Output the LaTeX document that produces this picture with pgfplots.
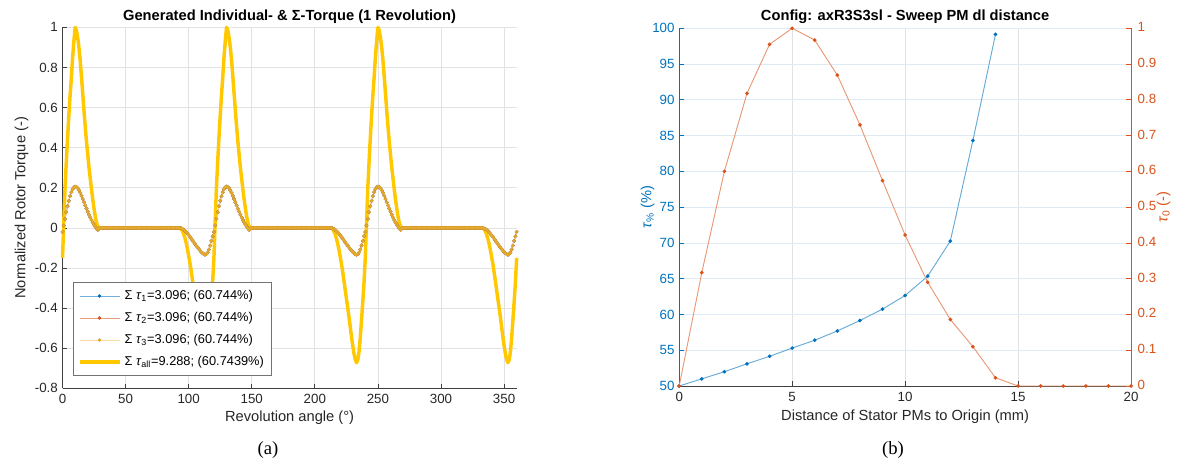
\documentclass[border=0pt]{standalone}
\usepackage{fontspec}
\setmainfont{Liberation Sans}
\newfontfamily\capfont{Liberation Serif}
\usepackage{pgfplots}
\usepackage{pgfplotstable}
\pgfplotsset{compat=1.18}

\definecolor{mblue}{RGB}{0,114,189}
\definecolor{morange}{RGB}{217,83,25}
\definecolor{myellow}{RGB}{237,177,32}
\definecolor{mgold}{RGB}{226,170,45}
\definecolor{allyellow}{RGB}{255,200,0}
\definecolor{axgray}{RGB}{64,64,64}
\definecolor{gridgray}{RGB}{226,226,226}
\definecolor{gridblue}{RGB}{222,234,245}

\pgfplotstableread[row sep=\\]{
th ind all\\
0 -0.02 -0.15\\ 1 0.012 0.03\\ 2 0.045 0.20\\ 3 0.078 0.33\\ 4 0.108 0.45\\ 5 0.135 0.56\\ 6 0.158 0.66\\ 7 0.178 0.75\\ 8 0.193 0.85\\ 9 0.202 0.93\\
10 0.206 1.0\\ 11 0.204 0.985\\ 12 0.198 0.95\\ 13 0.188 0.90\\ 14 0.175 0.835\\ 15 0.160 0.755\\ 16 0.144 0.67\\ 17 0.128 0.585\\ 18 0.112 0.505\\ 19 0.096 0.43\\
20 0.081 0.365\\ 21 0.066 0.30\\ 22 0.052 0.245\\ 23 0.039 0.19\\ 24 0.027 0.14\\ 25 0.016 0.095\\ 26 0.006 0.055\\ 27 -0.003 0.025\\ 28 -0.01 0.007\\ 29 -0.004 0\\
30 0 0\\ 31 0 0\\ 32 0 0\\ 33 0 0\\ 34 0 0\\ 35 0 0\\ 36 0 0\\ 37 0 0\\ 38 0 0\\ 39 0 0\\
40 0 0\\ 41 0 0\\ 42 0 0\\ 43 0 0\\ 44 0 0\\ 45 0 0\\ 46 0 0\\ 47 0 0\\ 48 0 0\\ 49 0 0\\
50 0 0\\ 51 0 0\\ 52 0 0\\ 53 0 0\\ 54 0 0\\ 55 0 0\\ 56 0 0\\ 57 0 0\\ 58 0 0\\ 59 0 0\\
60 0 0\\ 61 0 0\\ 62 0 0\\ 63 0 0\\ 64 0 0\\ 65 0 0\\ 66 0 0\\ 67 0 0\\ 68 0 0\\ 69 0 0\\
70 0 0\\ 71 0 0\\ 72 0 0\\ 73 0 0\\ 74 0 0\\ 75 0 0\\ 76 0 0\\ 77 0 0\\ 78 0 0\\ 79 0 0\\
80 0 0\\ 81 0 0\\ 82 0 0\\ 83 0 0\\ 84 0 0\\ 85 0 0\\ 86 0 0\\ 87 0 0\\ 88 0 0\\ 89 0 0\\
90 0 0\\ 91 0 0\\ 92 0 0\\ 93 0 0\\ 94 -0.002 -0.005\\ 95 -0.005 -0.015\\ 96 -0.009 -0.03\\ 97 -0.014 -0.05\\ 98 -0.021 -0.075\\ 99 -0.028 -0.105\\
100 -0.036 -0.14\\ 101 -0.044 -0.175\\ 102 -0.053 -0.215\\ 103 -0.062 -0.26\\ 104 -0.071 -0.305\\ 105 -0.080 -0.35\\ 106 -0.089 -0.395\\ 107 -0.097 -0.44\\ 108 -0.105 -0.49\\ 109 -0.113 -0.54\\
110 -0.120 -0.585\\ 111 -0.126 -0.625\\ 112 -0.131 -0.655\\ 113 -0.134 -0.672\\ 114 -0.131 -0.66\\ 115 -0.123 -0.62\\ 116 -0.108 -0.55\\ 117 -0.088 -0.46\\ 118 -0.065 -0.37\\ 119 -0.042 -0.27\\
120 -0.02 -0.15\\ 121 0.012 0.03\\ 122 0.045 0.20\\ 123 0.078 0.33\\ 124 0.108 0.45\\ 125 0.135 0.56\\ 126 0.158 0.66\\ 127 0.178 0.75\\ 128 0.193 0.85\\ 129 0.202 0.93\\
130 0.206 1.0\\ 131 0.204 0.985\\ 132 0.198 0.95\\ 133 0.188 0.90\\ 134 0.175 0.835\\ 135 0.160 0.755\\ 136 0.144 0.67\\ 137 0.128 0.585\\ 138 0.112 0.505\\ 139 0.096 0.43\\
140 0.081 0.365\\ 141 0.066 0.30\\ 142 0.052 0.245\\ 143 0.039 0.19\\ 144 0.027 0.14\\ 145 0.016 0.095\\ 146 0.006 0.055\\ 147 -0.003 0.025\\ 148 -0.01 0.007\\ 149 -0.004 0\\
150 0 0\\ 151 0 0\\ 152 0 0\\ 153 0 0\\ 154 0 0\\ 155 0 0\\ 156 0 0\\ 157 0 0\\ 158 0 0\\ 159 0 0\\
160 0 0\\ 161 0 0\\ 162 0 0\\ 163 0 0\\ 164 0 0\\ 165 0 0\\ 166 0 0\\ 167 0 0\\ 168 0 0\\ 169 0 0\\
170 0 0\\ 171 0 0\\ 172 0 0\\ 173 0 0\\ 174 0 0\\ 175 0 0\\ 176 0 0\\ 177 0 0\\ 178 0 0\\ 179 0 0\\
180 0 0\\ 181 0 0\\ 182 0 0\\ 183 0 0\\ 184 0 0\\ 185 0 0\\ 186 0 0\\ 187 0 0\\ 188 0 0\\ 189 0 0\\
190 0 0\\ 191 0 0\\ 192 0 0\\ 193 0 0\\ 194 0 0\\ 195 0 0\\ 196 0 0\\ 197 0 0\\ 198 0 0\\ 199 0 0\\
200 0 0\\ 201 0 0\\ 202 0 0\\ 203 0 0\\ 204 0 0\\ 205 0 0\\ 206 0 0\\ 207 0 0\\ 208 0 0\\ 209 0 0\\
210 0 0\\ 211 0 0\\ 212 0 0\\ 213 0 0\\ 214 -0.002 -0.005\\ 215 -0.005 -0.015\\ 216 -0.009 -0.03\\ 217 -0.014 -0.05\\ 218 -0.021 -0.075\\ 219 -0.028 -0.105\\
220 -0.036 -0.14\\ 221 -0.044 -0.175\\ 222 -0.053 -0.215\\ 223 -0.062 -0.26\\ 224 -0.071 -0.305\\ 225 -0.080 -0.35\\ 226 -0.089 -0.395\\ 227 -0.097 -0.44\\ 228 -0.105 -0.49\\ 229 -0.113 -0.54\\
230 -0.120 -0.585\\ 231 -0.126 -0.625\\ 232 -0.131 -0.655\\ 233 -0.134 -0.672\\ 234 -0.131 -0.66\\ 235 -0.123 -0.62\\ 236 -0.108 -0.55\\ 237 -0.088 -0.46\\ 238 -0.065 -0.37\\ 239 -0.042 -0.27\\
240 -0.02 -0.15\\ 241 0.012 0.03\\ 242 0.045 0.20\\ 243 0.078 0.33\\ 244 0.108 0.45\\ 245 0.135 0.56\\ 246 0.158 0.66\\ 247 0.178 0.75\\ 248 0.193 0.85\\ 249 0.202 0.93\\
250 0.206 1.0\\ 251 0.204 0.985\\ 252 0.198 0.95\\ 253 0.188 0.90\\ 254 0.175 0.835\\ 255 0.160 0.755\\ 256 0.144 0.67\\ 257 0.128 0.585\\ 258 0.112 0.505\\ 259 0.096 0.43\\
260 0.081 0.365\\ 261 0.066 0.30\\ 262 0.052 0.245\\ 263 0.039 0.19\\ 264 0.027 0.14\\ 265 0.016 0.095\\ 266 0.006 0.055\\ 267 -0.003 0.025\\ 268 -0.01 0.007\\ 269 -0.004 0\\
270 0 0\\ 271 0 0\\ 272 0 0\\ 273 0 0\\ 274 0 0\\ 275 0 0\\ 276 0 0\\ 277 0 0\\ 278 0 0\\ 279 0 0\\
280 0 0\\ 281 0 0\\ 282 0 0\\ 283 0 0\\ 284 0 0\\ 285 0 0\\ 286 0 0\\ 287 0 0\\ 288 0 0\\ 289 0 0\\
290 0 0\\ 291 0 0\\ 292 0 0\\ 293 0 0\\ 294 0 0\\ 295 0 0\\ 296 0 0\\ 297 0 0\\ 298 0 0\\ 299 0 0\\
300 0 0\\ 301 0 0\\ 302 0 0\\ 303 0 0\\ 304 0 0\\ 305 0 0\\ 306 0 0\\ 307 0 0\\ 308 0 0\\ 309 0 0\\
310 0 0\\ 311 0 0\\ 312 0 0\\ 313 0 0\\ 314 0 0\\ 315 0 0\\ 316 0 0\\ 317 0 0\\ 318 0 0\\ 319 0 0\\
320 0 0\\ 321 0 0\\ 322 0 0\\ 323 0 0\\ 324 0 0\\ 325 0 0\\ 326 0 0\\ 327 0 0\\ 328 0 0\\ 329 0 0\\
330 0 0\\ 331 0 0\\ 332 0 0\\ 333 0 0\\ 334 -0.002 -0.005\\ 335 -0.005 -0.015\\ 336 -0.009 -0.03\\ 337 -0.014 -0.05\\ 338 -0.021 -0.075\\ 339 -0.028 -0.105\\
340 -0.036 -0.14\\ 341 -0.044 -0.175\\ 342 -0.053 -0.215\\ 343 -0.062 -0.26\\ 344 -0.071 -0.305\\ 345 -0.080 -0.35\\ 346 -0.089 -0.395\\ 347 -0.097 -0.44\\ 348 -0.105 -0.49\\ 349 -0.113 -0.54\\
350 -0.120 -0.585\\ 351 -0.126 -0.625\\ 352 -0.131 -0.655\\ 353 -0.134 -0.672\\ 354 -0.131 -0.66\\ 355 -0.123 -0.62\\ 356 -0.108 -0.55\\ 357 -0.088 -0.46\\ 358 -0.065 -0.37\\ 359 -0.042 -0.27\\
360 -0.02 -0.15\\
}\torque

\pgfplotsset{
 mat/.style={
  scale only axis,
  axis x line*=bottom, axis y line*=left,
  tick align=inside, major tick length=3.5pt,
  axis line style={axgray, line width=0.5pt},
  every tick/.style={axgray, line width=0.5pt},
  tick label style={font=\fontsize{10}{11}\selectfont, text=black!85},
  xticklabel style={yshift=-1.2pt},
  label style={font=\fontsize{11}{13}\selectfont, text=black!85},
  title style={font=\bfseries\fontsize{11}{13}\selectfont, text=black},
  every axis title shift=0pt,
  /pgf/number format/assume math mode=true,
  /pgf/number format/fixed,
 },
}

\begin{document}
\begin{tikzpicture}
\useasboundingbox (0,0) rectangle (890.25pt,348.75pt);

% ---------------- Left plot ----------------
\begin{axis}[mat,
 at={(46.9pt,57.5pt)}, anchor=south west, width=340.6pt, height=270.75pt,
 xmin=0, xmax=360, ymin=-0.8, ymax=1,
 xtick={0,50,100,150,200,250,300,350},
 ytick={-0.8,-0.6,-0.4,-0.2,0,0.2,0.4,0.6,0.8,1},
 xmajorgrids, ymajorgrids, grid style={gridgray, line width=0.5pt},
 title={Generated Individual- \& Σ-Torque (1 Revolution)},
 title style={at={(axis description cs:0.5,1.03)}, anchor=center},
 xlabel={Revolution angle (°)},
 xlabel style={at={(axis description cs:0.5,-0.08)}, anchor=center},
 ylabel={Normalized Rotor Torque (-)},
 ylabel style={at={(axis description cs:-0.09,0.5)}, anchor=center},
 legend style={at={(axis description cs:0.024,0.034)}, anchor=south west,
   draw=black!55, line width=0.5pt, fill=white, font=\fontsize{9.6}{11}\selectfont,
   nodes={text height=7.3pt, text depth=2.6pt, inner ysep=3.3pt, inner xsep=2.5pt}, row sep=0pt},
 legend cell align=left,
 legend image code/.code={\draw[mark repeat=2,mark phase=2,#1] plot coordinates {(0pt,0pt) (15pt,0pt) (30pt,0pt)};},
 clip=false,
]
\addplot[color=mblue!55, line width=0.6pt, mark=*, mark size=1pt, mark options={solid, fill=mblue, draw=mblue}] table[x=th, y=ind] {\torque};
\addlegendentry{Σ \textit{τ}\textsubscript{1}=3.096; (60.744\%)}
\addplot[color=morange!55, line width=0.6pt, mark=*, mark size=1pt, mark options={solid, fill=morange, draw=morange}] table[x=th, y=ind] {\torque};
\addlegendentry{Σ \textit{τ}\textsubscript{2}=3.096; (60.744\%)}
\addplot[color=myellow!45, line width=0.6pt, mark=*, mark size=1pt, mark options={solid, fill=mgold, draw=mgold}] table[x=th, y=ind] {\torque};
\addlegendentry{Σ \textit{τ}\textsubscript{3}=3.096; (60.744\%)}
\addplot[color=allyellow, line width=2.6pt, line join=round] table[x=th, y=all] {\torque};
\addlegendentry{Σ \textit{τ}\textsubscript{all}=9.288; (60.7439\%)}
\end{axis}

% ---------------- Right plot (left y axis) ----------------
\begin{axis}[mat,
 at={(509.4pt,59.25pt)}, anchor=south west, width=338.85pt, height=268.3pt,
 xmin=0, xmax=20, ymin=50, ymax=100,
 xtick={0,5,10,15,20}, ytick={50,55,60,65,70,75,80,85,90,95,100},
 xmajorgrids, ymajorgrids,
 major x grid style={gridgray, line width=0.5pt},
 major y grid style={gridblue, line width=0.5pt},
 y axis line style={mblue}, ytick style={mblue}, yticklabel style={text=mblue},
 title={Config: axR3S3sl - Sweep PM dl distance},
 title style={at={(axis description cs:0.5,1.033)}, anchor=center},
 xlabel={Distance of Stator PMs to Origin (mm)},
 xlabel style={at={(axis description cs:0.5,-0.086)}, anchor=center},
 ylabel={\textit{τ}\textsubscript{\%} (\%)},
 ylabel style={at={(axis description cs:-0.07,0.5)}, anchor=center, text=mblue},
 clip=false,
]
\addplot[color=mblue!60, line width=0.7pt, mark=*, mark size=1pt, mark options={solid, fill=mblue, draw=mblue}] coordinates {
(0,50) (1,51.0) (2,52.0) (3,53.1) (4,54.15) (5,55.3) (6,56.4) (7,57.7) (8,59.15) (9,60.75) (10,62.65) (11,65.35) (12,70.25) (13,84.3) (14,99.15)
};
\end{axis}

% ---------------- Right plot (right y axis) ----------------
\begin{axis}[mat,
 at={(509.4pt,59.25pt)}, anchor=south west, width=338.85pt, height=268.3pt,
 axis x line=none, axis y line*=right,
 xmin=0, xmax=20, ymin=0, ymax=1,
 ytick={0,0.1,0.2,0.3,0.4,0.5,0.6,0.7,0.8,0.9,1},
 y axis line style={morange}, ytick style={morange}, yticklabel style={text=morange, xshift=1.5pt, yshift=0.8pt},
 ylabel={\textit{τ}\textsubscript{0} (-)},
 ylabel style={at={(axis description cs:1.072,0.5)}, anchor=center, text=morange},
 clip=false,
]
\addplot[color=morange!60, line width=0.7pt, mark=*, mark size=1pt, mark options={solid, fill=morange, draw=morange}] coordinates {
(0,0) (1,0.317) (2,0.60) (3,0.818) (4,0.955) (5,1.0) (6,0.967) (7,0.869) (8,0.730) (9,0.574) (10,0.422) (11,0.29) (12,0.186) (13,0.11) (14,0.023) (15,0) (16,0) (17,0) (18,0) (19,0) (20,0)
};
\end{axis}

\node[font=\capfont\fontsize{14}{16}\selectfont] at (201pt,11.25pt) {(a)};
\node[font=\capfont\fontsize{14}{16}\selectfont] at (669.75pt,11.25pt) {(b)};
\end{tikzpicture}
\end{document}
